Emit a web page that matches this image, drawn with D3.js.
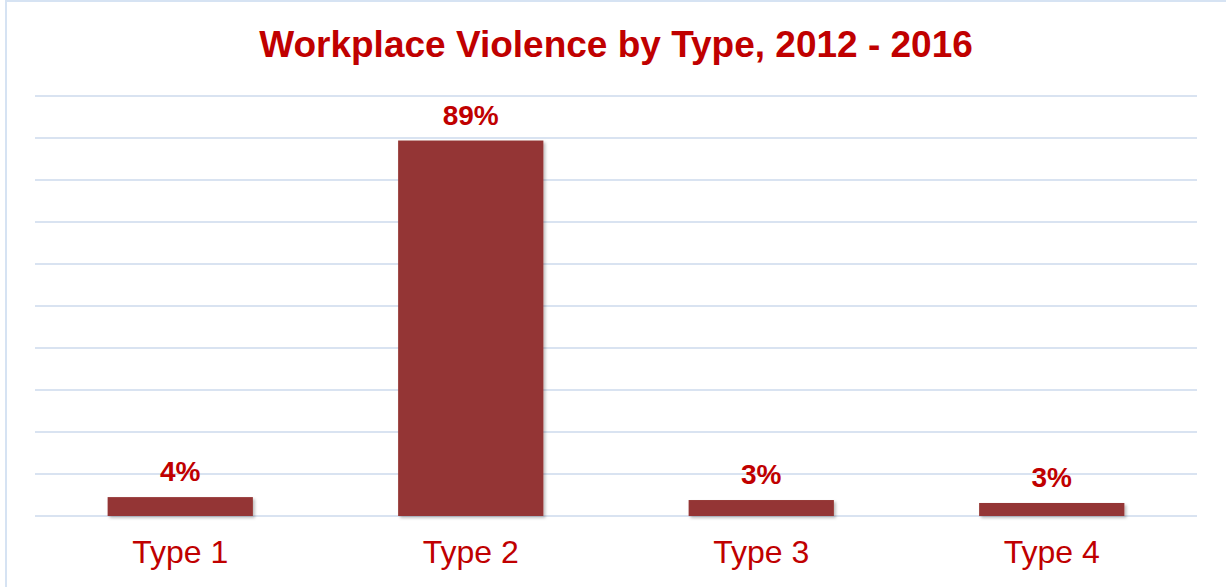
<!DOCTYPE html>
<html lang="en">
<head>
    <meta charset="UTF-8">
    <title>Workplace Violence by Type</title>
    <script src="https://d3js.org/d3.v7.min.js"></script>
    <style>
        body { margin: 0; background: #fff; }
        #chart { width: 1226px; height: 587px; }
    </style>
</head>
<body>
    <div id="chart"></div>
    <script>
        // data
        var categories = ["Type 1", "Type 2", "Type 3", "Type 4"];
        var values = [4.5, 89.4, 3.8, 3.1];
        var valueLabels = ["4%", "89%", "3%", "3%"];
        var gridTicks = [0, 10, 20, 30, 40, 50, 60, 70, 80, 90, 100];

        var width = 1226, height = 587;
        var margin = {top: 96, right: 29, bottom: 71, left: 35};

        var svg = d3.select("#chart")
            .append("svg")
            .attr("width", width)
            .attr("height", height);

        // soft shadow under the bars
        var defs = svg.append("defs");
        var f = defs.append("filter").attr("id", "shadow")
            .attr("x", "-5%").attr("y", "-20%").attr("width", "115%").attr("height", "160%");
        f.append("feDropShadow")
            .attr("dx", 2).attr("dy", 2).attr("stdDeviation", 1.5)
            .attr("flood-color", "#000").attr("flood-opacity", 0.25);

        // outer frame
        svg.append("rect")
            .attr("x", 6).attr("y", 1)
            .attr("width", width + 10).attr("height", height + 10)
            .attr("fill", "none")
            .attr("stroke", "#d6e3f3")
            .attr("stroke-width", 2);

        var x = d3.scaleBand()
            .domain(categories)
            .range([margin.left, width - margin.right])
            .paddingInner(0.5)
            .paddingOuter(0.25);

        var y = d3.scaleLinear()
            .domain([0, 100])
            .range([height - margin.bottom, margin.top]);

        // gridlines
        svg.append("g")
            .selectAll("line")
            .data(gridTicks)
            .enter()
            .append("line")
            .attr("x1", margin.left)
            .attr("x2", width - margin.right)
            .attr("y1", function(d) { return y(d); })
            .attr("y2", function(d) { return y(d); })
            .attr("stroke", "#d9e3f1")
            .attr("stroke-width", 2);

        // title
        svg.append("text")
            .attr("x", 616)
            .attr("y", 57)
            .attr("text-anchor", "middle")
            .attr("font-family", "'Liberation Sans', Arial, sans-serif")
            .attr("font-weight", "bold")
            .attr("font-size", "37px")
            .attr("fill", "#c00000")
            .text("Workplace Violence by Type, 2012 - 2016");

        // bars
        svg.append("g")
            .selectAll("rect")
            .data(values)
            .enter()
            .append("rect")
            .attr("x", function(d, i) { return x(categories[i]); })
            .attr("y", function(d) { return y(d); })
            .attr("width", x.bandwidth())
            .attr("height", function(d) { return y(0) - y(d); })
            .attr("fill", "#943634")
            .attr("filter", "url(#shadow)");

        // value labels
        svg.append("g")
            .selectAll("text")
            .data(values)
            .enter()
            .append("text")
            .attr("x", function(d, i) { return x(categories[i]) + x.bandwidth() / 2; })
            .attr("y", function(d) { return y(d) - 16; })
            .attr("text-anchor", "middle")
            .attr("font-family", "'Liberation Sans', Arial, sans-serif")
            .attr("font-weight", "bold")
            .attr("font-size", "28px")
            .attr("fill", "#c00000")
            .text(function(d, i) { return valueLabels[i]; });

        // category axis
        var xAxis = svg.append("g")
            .attr("transform", "translate(0," + y(0) + ")")
            .call(d3.axisBottom(x).tickSize(0).tickPadding(24));
        xAxis.select(".domain").remove();
        xAxis.selectAll("text")
            .attr("font-family", "'Liberation Sans', Arial, sans-serif")
            .attr("font-size", "32px")
            .attr("fill", "#c00000");
    </script>
</body>
</html>
